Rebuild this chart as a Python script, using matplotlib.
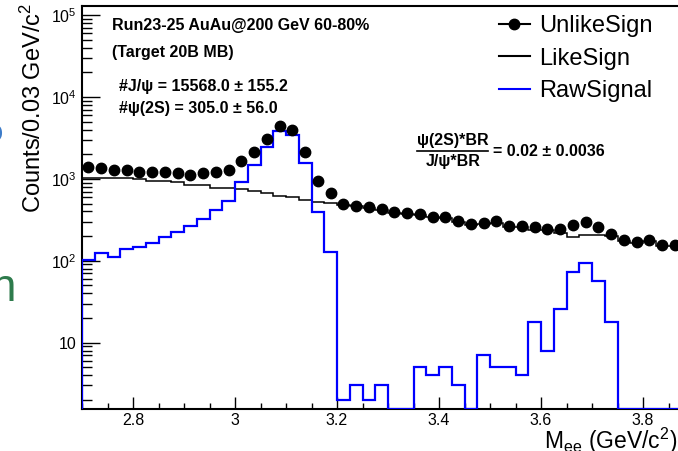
import numpy as np
import matplotlib.pyplot as plt
from matplotlib.lines import Line2D
from matplotlib.ticker import FixedLocator, FixedFormatter, MultipleLocator, LogLocator, NullFormatter

plt.rcParams['font.family'] = ['Liberation Sans', 'DejaVu Sans']
plt.rcParams['mathtext.fontset'] = 'custom'
plt.rcParams['mathtext.rm'] = 'Liberation Sans'
plt.rcParams['mathtext.it'] = 'Liberation Sans:italic'
plt.rcParams['mathtext.bf'] = 'Liberation Sans:bold'

# dielectron invariant mass, 0.025 GeV bins from 2.7
bin_lo = 2.7
bin_w = 0.025
unlike = [1409, 1347, 1284, 1284, 1204, 1204, 1204, 1171, 1116, 1171,
          1204, 1284, 1668, 2131, 3070, 4465, 3954, 2113, 943, 667,
          490, 471, 450, 429, 389, 380, 370, 345, 340, 309,
          281, 287, 306, 268, 268, 256, 245, 243, 273, 300,
          256, 211, 180, 171, 180, 156, 156]
like = [1015, 1015, 1015, 1015, 985, 950, 950, 925, 840, 840,
        780, 780, 750, 710, 665, 622, 595, 552, 522, 504,
        480, 460, 440, 420, 385, 372, 362, 338, 330, 300,
        275, 278, 290, 260, 255, 238, 238, 220, 197, 207,
        207, 200, 176, 167, 172, 152, 152]
raw = [102, 123, 112, 141, 147, 164, 195, 225, 265, 319,
       411, 530, 925, 1479, 2473, 3879, 3436, 1578, 398, 129,
       2, 3, 2, 3, 0, 0, 5, 4, 5, 3,
       0, 7, 5, 5, 4, 18, 8, 26, 73, 95,
       57, 18, 0, 0, 0, 0, 0]

x_ticks = [2.8, 3.0, 3.2, 3.4, 3.6, 3.8]
x_ticklabels = ['2.8', '3', '3.2', '3.4', '3.6', '3.8']
y_ticks = [10, 1e2, 1e3, 1e4, 1e5]
y_ticklabels = ['10', '$10^{2}$', '$10^{3}$', '$10^{4}$', '$10^{5}$']
legend_labels = ['UnlikeSign', 'LikeSign', 'RawSignal']

y_lo, y_hi = 1.57, 1.29e5

W, H = 678, 451


def fx(px):
    return px / W


def fy(py):
    return 1 - py / H


edges = bin_lo + bin_w * np.arange(len(unlike) + 1)
centers = 0.5 * (edges[:-1] + edges[1:])

fig = plt.figure(figsize=(W / 100, H / 100), dpi=100)
ax = fig.add_axes([fx(82), fy(408.5), 612 / W, 402.5 / H])

ax.stairs(like, edges, color='k', lw=1.1, baseline=None, zorder=2)
ax.stairs(np.maximum(raw, y_lo), edges, baseline=y_lo, color='#0000ff',
          lw=1.6, zorder=3)
ax.plot(centers, unlike, 'o', color='k', ms=7.5, zorder=4)

ax.set_yscale('log')
ax.set_xlim(2.7, 3.9)
ax.set_ylim(y_lo, y_hi)

ax.xaxis.set_major_locator(FixedLocator(x_ticks))
ax.xaxis.set_major_formatter(FixedFormatter(x_ticklabels))
ax.xaxis.set_minor_locator(MultipleLocator(0.05))
ax.yaxis.set_major_locator(FixedLocator(y_ticks))
ax.yaxis.set_major_formatter(FixedFormatter(y_ticklabels))
ax.yaxis.set_minor_locator(LogLocator(base=10, subs=np.arange(2, 10)))
ax.yaxis.set_minor_formatter(NullFormatter())

ax.tick_params(which='both', direction='in', top=False, right=False,
               width=1, labelsize=11.5)
ax.tick_params(axis='y', which='major', length=13, pad=4)
ax.tick_params(axis='y', which='minor', length=7)
ax.tick_params(axis='x', which='major', length=8.5, pad=3.5)
ax.tick_params(axis='x', which='minor', length=4)
for side in ['left', 'bottom', 'top']:
    ax.spines[side].set_linewidth(1.5)
ax.spines['right'].set_visible(False)

handles = [Line2D([], [], color='k', marker='o', ms=7.5, lw=1.5),
           Line2D([], [], color='k', lw=1.5),
           Line2D([], [], color='#0000ff', lw=1.5)]
fig.legend(handles, legend_labels, loc='upper left',
           bbox_to_anchor=(fx(499), fy(15)), frameon=False, fontsize=17,
           handlelength=1.3, handletextpad=0.4, borderpad=0,
           borderaxespad=0, labelspacing=0.45)

# run info and yields
bold = dict(fontsize=11.5, fontweight='bold', va='center')
fig.text(fx(112), fy(25.7), 'Run23-25 AuAu@200 GeV 60-80%', **bold)
fig.text(fx(112), fy(52), '(Target 20B MB)', **bold)
fig.text(fx(119), fy(87), '#J/\u03c8 = 15568.0 \u00b1 155.2', **bold)
fig.text(fx(119), fy(108), '#\u03c8(2S) = 305.0 \u00b1 56.0', **bold)

# ratio psi(2S)/J/psi
fig.text(fx(452.7), fy(140), '\u03c8(2S)*BR', ha='center', **bold)
fig.text(fx(452.7), fy(162), 'J/\u03c8*BR', ha='center', **bold)
fig.add_artist(Line2D([fx(416.7), fx(488)], [fy(150.7), fy(150.7)],
                      transform=fig.transFigure, color='k', lw=1.2))
fig.text(fx(493), fy(152), '= 0.02 \u00b1 0.0036', **bold)

fig.text(fx(33), fy(3), 'Counts/0.03 GeV/c$^{2}$', rotation=90,
         ha='center', va='top', fontsize=17)
fig.text(fx(677), fy(449), r'M$_{\mathrm{ee}}$ (GeV/c$^{2}$)',
         fontsize=16.5, ha='right', va='baseline')

# slide text bleeding in from the left
fig.text(fx(3), fy(134), 'o', color='#3d7cc9', fontsize=24,
         fontweight='bold', ha='right', va='center')
fig.text(fx(16), fy(301), 'n', color='#2e7b4c', fontsize=33,
         ha='right', va='baseline')

fig.savefig('out.png', dpi=100)
